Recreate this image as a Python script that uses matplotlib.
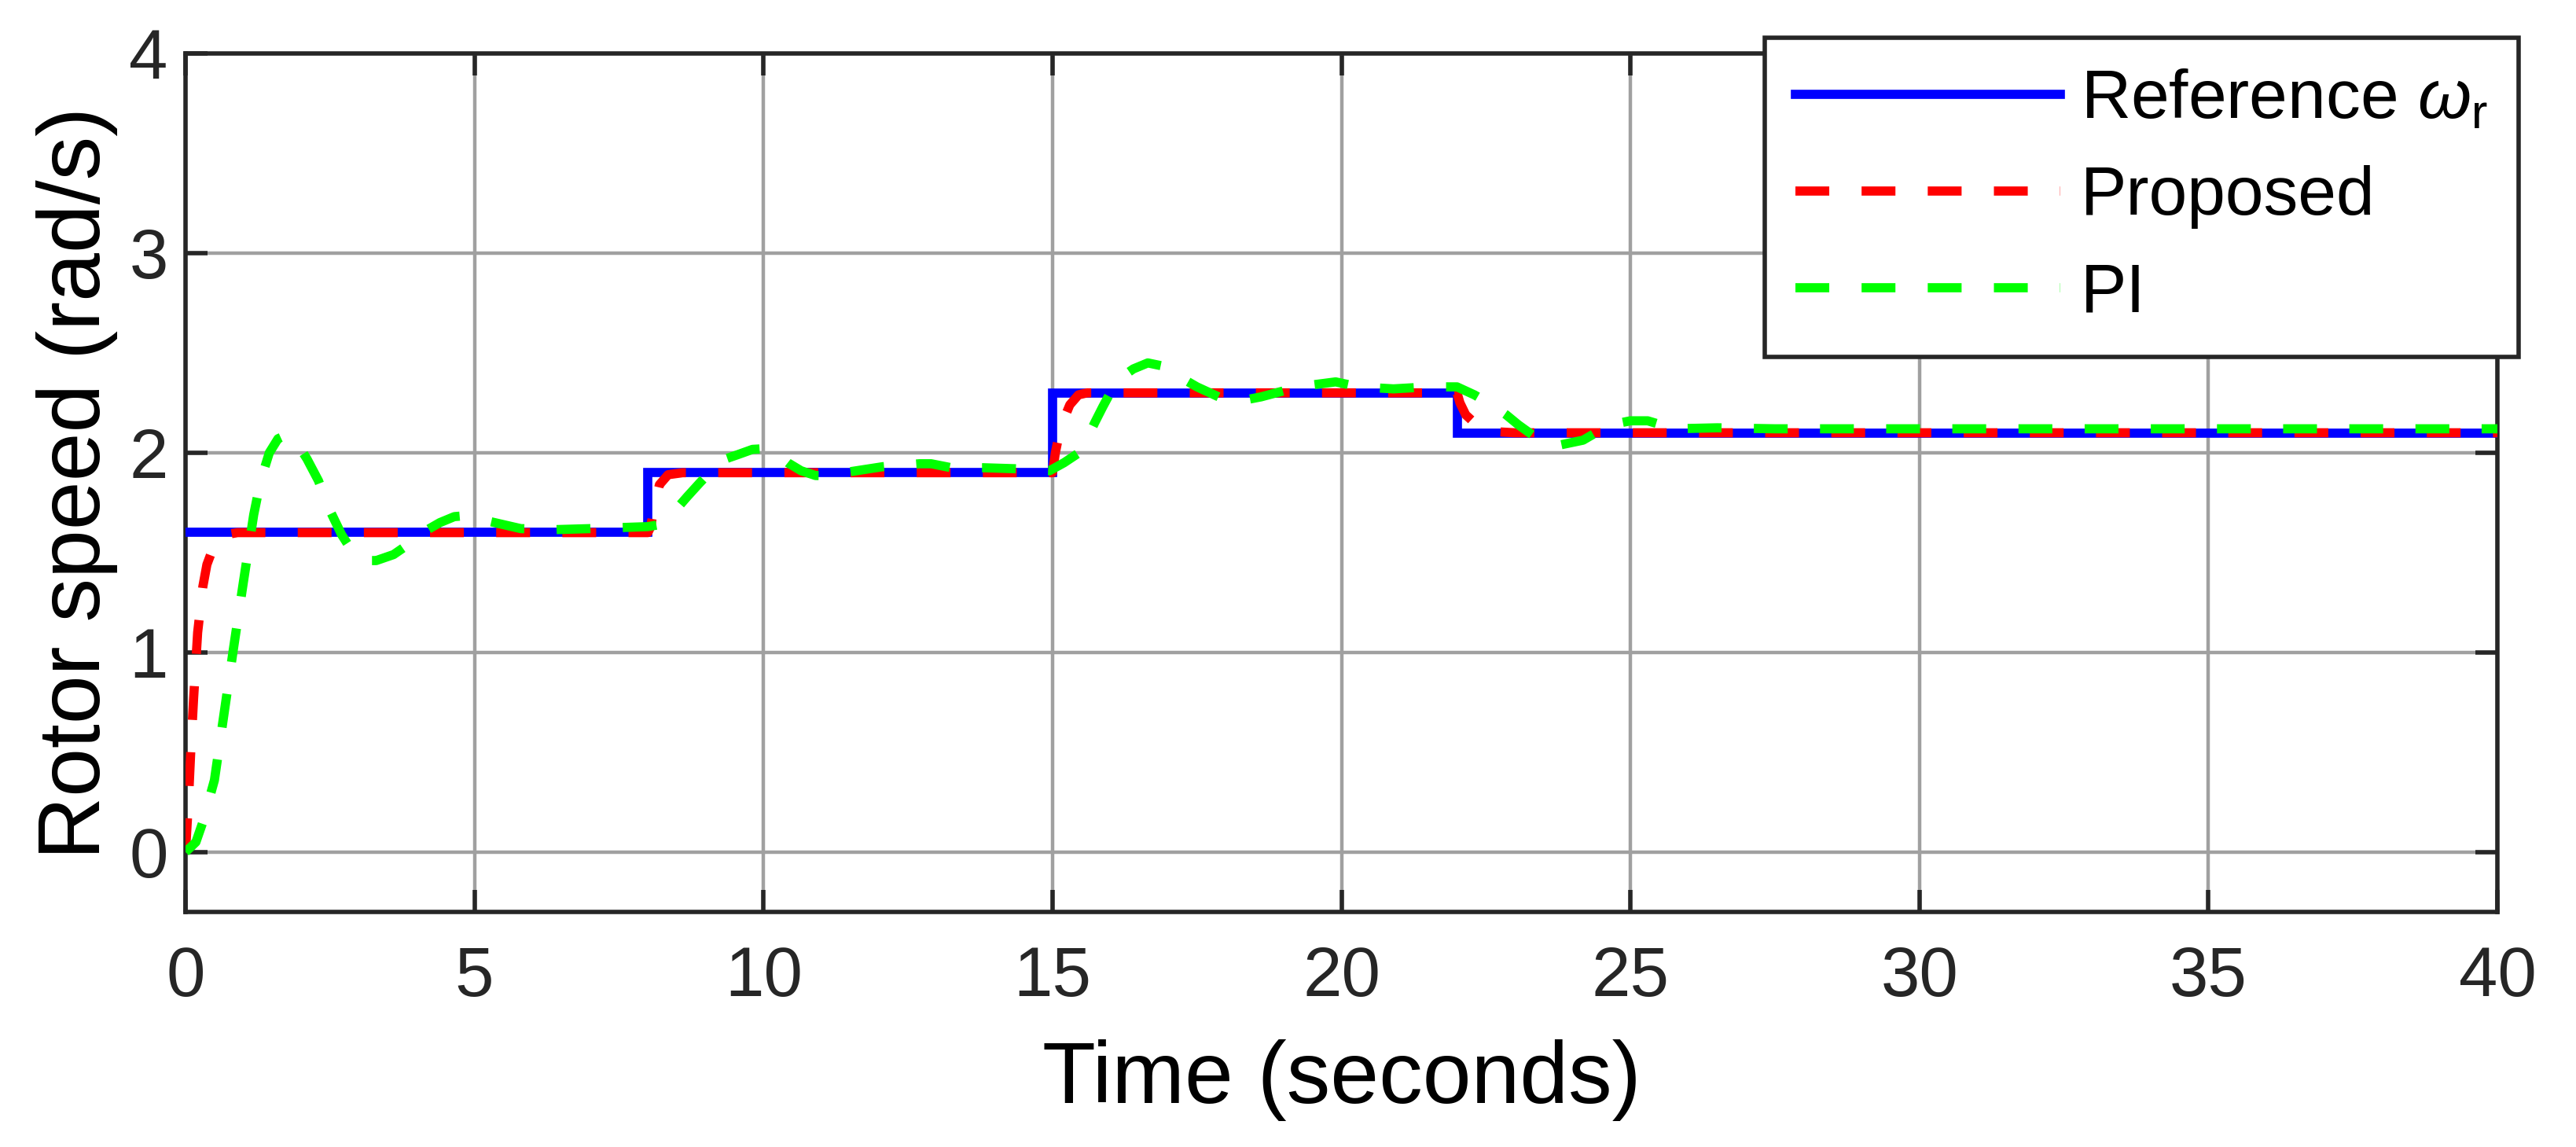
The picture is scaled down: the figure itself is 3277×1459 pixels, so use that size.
import matplotlib
matplotlib.use('Agg')
import matplotlib.pyplot as plt

plt.rcParams['font.family'] = ['Liberation Sans', 'DejaVu Sans']
plt.rcParams['mathtext.fontset'] = 'custom'
plt.rcParams['mathtext.rm'] = 'Liberation Sans'
plt.rcParams['mathtext.it'] = 'Liberation Sans:italic'
plt.rcParams['lines.scale_dashes'] = False

# ---------------- data ----------------
ref_t = [0, 8, 15, 22, 40]
ref_w = [1.6, 1.9, 2.3, 2.1, 2.1]

prop_t = [0, 0.05, 0.09, 0.14, 0.21, 0.30, 0.37, 0.50, 0.70, 0.90,
          8.0, 8.05, 8.10, 8.20, 8.35, 8.60,
          15.0, 15.05, 15.12, 15.20, 15.30, 15.45, 15.60,
          22.0, 22.05, 22.15, 22.30, 22.50, 22.70, 23.0, 40.0]
prop_w = [0, 0.25, 0.50, 0.77, 1.10, 1.33, 1.44, 1.54, 1.59, 1.60,
          1.60, 1.63, 1.72, 1.84, 1.89, 1.90,
          1.90, 2.00, 2.10, 2.17, 2.24, 2.29, 2.30,
          2.30, 2.25, 2.19, 2.15, 2.12, 2.105, 2.10, 2.10]

pi_t = [0, 0.18, 0.30, 0.50, 0.66, 0.83, 1.00, 1.18, 1.30, 1.45, 1.60, 1.75,
        1.90, 2.10, 2.30, 2.50, 2.70, 2.90, 3.10, 3.30, 3.60, 3.90, 4.10,
        4.40, 4.65, 4.85, 5.20, 5.80, 6.40, 7.00, 7.50, 8.00,
        8.20, 8.47, 8.68, 8.90, 9.10, 9.30, 9.55, 9.81, 10.0, 10.2, 10.42,
        10.65, 10.9, 11.1, 11.5, 12.06, 12.7, 12.9, 13.25, 13.8, 14.35, 14.95,
        15.2, 15.46, 15.6, 15.73, 15.87, 16.0, 16.2, 16.4, 16.65, 16.98,
        17.2, 17.5, 17.95, 18.25, 18.61, 19.13, 19.5, 19.9, 20.3, 20.9,
        21.5, 22.0, 22.3, 22.6, 22.85, 23.06, 23.3, 23.5, 23.8, 24.18,
        24.4, 24.65, 25.0, 25.3, 25.76, 26.5, 27.5, 40.0]
pi_w = [0, 0.05, 0.15, 0.36, 0.68, 1.02, 1.35, 1.69, 1.86, 2.00, 2.07, 2.09,
        2.06, 1.97, 1.86, 1.71, 1.59, 1.50, 1.46, 1.46, 1.49, 1.55, 1.60,
        1.65, 1.68, 1.685, 1.66, 1.62, 1.615, 1.62, 1.625, 1.63,
        1.64, 1.71, 1.78, 1.85, 1.91, 1.965, 1.99, 2.017, 2.02, 2.0, 1.95,
        1.91, 1.886, 1.885, 1.905, 1.93, 1.945, 1.945, 1.925, 1.925, 1.92, 1.91,
        1.95, 2.00, 2.07, 2.15, 2.23, 2.30, 2.38, 2.42, 2.45, 2.43,
        2.38, 2.33, 2.27, 2.26, 2.28, 2.32, 2.34, 2.355, 2.33, 2.32,
        2.33, 2.33, 2.29, 2.24, 2.19, 2.14, 2.09, 2.05, 2.04, 2.063,
        2.10, 2.14, 2.16, 2.16, 2.12, 2.125, 2.12, 2.12]

x_ticks = [0, 5, 10, 15, 20, 25, 30, 35, 40]
y_ticks = [0, 1, 2, 3, 4]
labels = ['Reference $\\omega_{\\mathrm{r}}$', 'Proposed', 'PI']

# ---------------- figure ----------------
W, H, DPI = 3277, 1459, 200
fig = plt.figure(figsize=(W / DPI, H / DPI), dpi=DPI)
ax = fig.add_axes([236 / W, 1 - 1160 / H, 2941 / W, 1092 / H])

dash = (0, (15.5, 14.8))
ax.plot(ref_t, ref_w, color='#0000ff', lw=4.2, drawstyle='steps-post',
        solid_joinstyle='miter', label=labels[0], zorder=3)
ax.plot(prop_t, prop_w, color='#ff0000', lw=4.2, linestyle=dash,
        dash_capstyle='butt', label=labels[1], zorder=4)
ax.plot(pi_t, pi_w, color='#00ff00', lw=4.2, linestyle=dash,
        dash_capstyle='butt', label=labels[2], zorder=5)

ax.set_xlim(0, 40)
ax.set_ylim(-0.3, 4)
ax.set_xticks(x_ticks)
ax.set_yticks(y_ticks)
ax.grid(True, color='#a0a0a0', lw=1.6)
ax.set_axisbelow(True)

dark = '#262626'
for s in ax.spines.values():
    s.set_linewidth(2.0)
    s.set_color(dark)
ax.tick_params(direction='in', length=10, width=2.0, color=dark,
               labelcolor=dark, labelsize=32, top=True, right=True)
ax.tick_params(axis='x', pad=15)
ax.tick_params(axis='y', pad=8)

ax.set_xlabel('Time (seconds)', fontsize=40, labelpad=13, color='black')
ax.set_ylabel('Rotor speed (rad/s)', fontsize=40, labelpad=5, color='black')

leg = ax.legend(loc='upper right', bbox_to_anchor=(3204 / W, 1 - 48 / H),
                bbox_transform=fig.transFigure, borderaxespad=0,
                fontsize=31.5, handlelength=3.85, handletextpad=0.3,
                borderpad=0.45, labelspacing=0.48, fancybox=False,
                framealpha=1, edgecolor=dark)
leg.get_frame().set_linewidth(2.0)
leg.set_zorder(10)

fig.savefig('out.png', dpi=DPI)
